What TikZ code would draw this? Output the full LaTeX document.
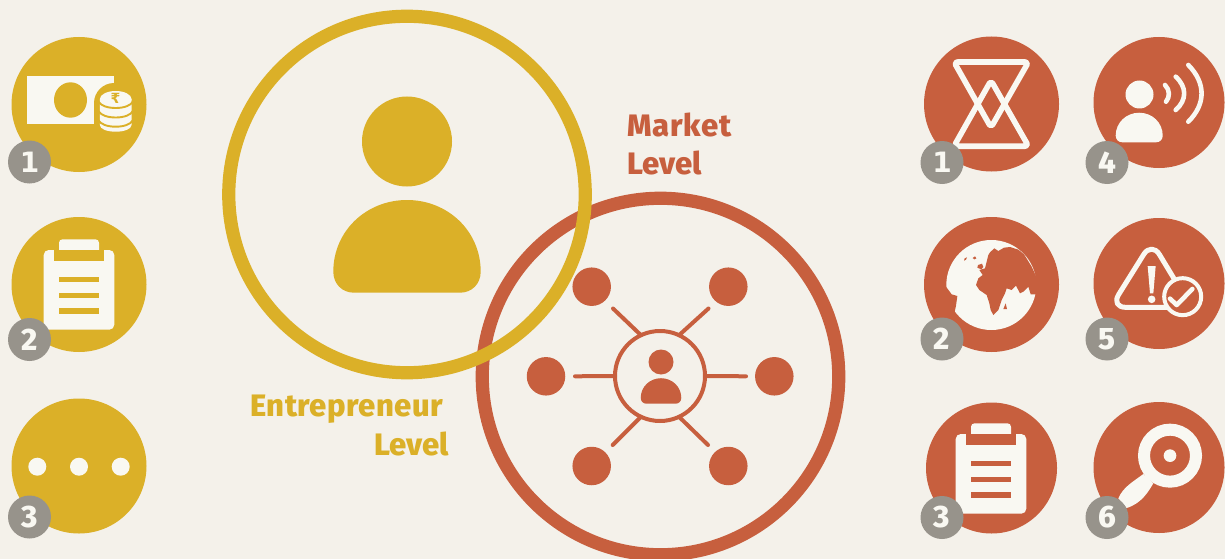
\documentclass[tikz,border=0pt]{standalone}
\usepackage{fontspec}
\setmainfont{Fira Sans}[BoldFont={Fira Sans ExtraBold}]
\newfontfamily\rupeefont{DejaVu Sans Bold}
\definecolor{bgc}{HTML}{F4F1EA}
\definecolor{ylw}{HTML}{DBB028}
\definecolor{rdc}{HTML}{C75F3E}
\definecolor{gryc}{HTML}{97938B}
\definecolor{icw}{HTML}{F9F8F2}
\tikzset{
  disc/.style={circle,fill=#1,inner sep=0,outer sep=0},
  badge/.style={circle,fill=gryc,inner sep=0,outer sep=0,minimum size=43pt,text=icw,font=\fontsize{31}{31}\selectfont\bfseries},
  ring/.style={circle,draw=#1,line width=13.2pt,inner sep=0,outer sep=0,minimum size=356.5pt},
  spoke/.style={draw=rdc,line width=4pt,line cap=round},
  lbl/.style={inner sep=0,outer sep=0,font=\fontsize{31}{37}\selectfont\bfseries,text=#1},
  iconline/.style={draw=icw,line width=#1,line cap=round,line join=round},
}
% digit one, which has a foot in the reference
\newcommand{\footone}{{\rupeefont\fontsize{28}{28}\selectfont 1}}
% person body: cx, bottom y, scale
\newcommand{\bodyshape}[4]{\fill[#4,shift={(#1,#2)},scale=#3]
  (-73.7,-21) .. controls (-73.7,-61.7) and (-40.7,-92.7) .. (0,-92.7)
  .. controls (40.7,-92.7) and (73.7,-61.7) .. (73.7,-21)
  .. controls (73.7,-9) and (65,0) .. (53,0) -- (-53,0)
  .. controls (-65,0) and (-73.7,-9) .. (-73.7,-21) -- cycle;}
% clipboard: dx, dy, cut colour
\newcommand{\clipicon}[3]{\begin{scope}[shift={(#1,#2)}]
  \fill[icw,rounded corners=5pt] (43.7,250) rectangle (114.3,329.7);
  \fill[icw] (59,250) [rounded corners=3.5pt] -- (59,239.3) -- (99,239.3) [sharp corners] -- (99,250) -- cycle;
  \fill[#3] (54,250) rectangle (104.3,260.7);
  \fill[#3] (59,276.7) rectangle (99,282);
  \fill[#3] (59,292.7) rectangle (99,298);
  \fill[#3] (59,308.3) rectangle (99,313.7);
\end{scope}}
\newcommand{\coinarc}[1]{\draw[ylw,line width=1.9pt,shift={(115.7,#1)}]
  (-17,0) .. controls (-15,3.6) and (-8.7,6.2) .. (0,6.2) .. controls (8.7,6.2) and (15,3.6) .. (17,0);}
\begin{document}
\begin{tikzpicture}[x=1pt,y=-1pt]
\fill[bgc] (0,0) rectangle (1225,559);
\useasboundingbox (0,0) rectangle (1225,559);

% large rings
\node[ring=rdc] (market) at (660.5,376.5) {};
\node[ring=ylw] (entre) at (407,194.5) {};

% entrepreneur person
\node[disc=ylw,minimum size=90pt] (ehead) at (407,141.5) {};
\bodyshape{407}{292.7}{1}{ylw}

% market network
\node[circle,draw=rdc,line width=4pt,inner sep=0,outer sep=0,minimum size=90pt] (hub) at (660,376) {};
\node[disc=rdc,minimum size=25pt] (hhead) at (661,362) {};
\bodyshape{661}{403.7}{0.275}{rdc}
\foreach \n/\x/\y in {s1/591.7/286.7,s2/728.3/286.7,s3/546/376.3,s4/774.3/376.3,s5/591.7/466,s6/728.3/466}
  \node[disc=rdc,minimum size=38.5pt] (\n) at (\x,\y) {};
\coordinate (e1) at (613,308.5);
\coordinate (e2) at (708.5,308.5);
\coordinate (e3) at (575,376.3);
\coordinate (e4) at (746,376.3);
\coordinate (e5) at (612.7,445);
\coordinate (e6) at (708,445);
\draw[spoke] (hub.115) -- (e1);
\draw[spoke] (hub.65) -- (e2);
\draw[spoke] (hub.180) -- (e3);
\draw[spoke] (hub.0) -- (e4);
\draw[spoke] (hub.245) -- (e5);
\draw[spoke] (hub.295) -- (e6);

% level labels
\node[lbl=rdc,anchor=base west] (lm1) at (627,136) {\addfontfeature{LetterSpace=2.8}Market};
\node[lbl=rdc,anchor=base west] (lm2) at (627,174.7) {Level};
\node[lbl=ylw,anchor=base east] (le1) at (443,416.7) {\addfontfeature{LetterSpace=1.5}Entrepreneur};
\node[lbl=ylw,anchor=base east] (le2) at (449,455) {Level};

% ---------- left column ----------
\node[disc=ylw,minimum size=135pt] (L1) at (79,104.5) {};
\fill[icw] (27,76) rectangle (114,124.3);
\fill[ylw] (70.5,100) ellipse [x radius=16.5pt,y radius=17.7pt];
\fill[ylw] (94,125) -- (94,103) .. controls (94,92) and (103,83) .. (114,83) -- (136,83) -- (136,125) -- cycle;
\fill[icw] (99.9,99) -- (99.9,125) .. controls (99.9,129) and (107,131.7) .. (115.7,131.7)
  .. controls (124.4,131.7) and (131.5,129) .. (131.5,125) -- (131.5,99) -- cycle;
\fill[icw] (115.7,99) ellipse [x radius=15.8pt,y radius=8pt];
\coinarc{101.8}
\coinarc{111.3}
\coinarc{120.5}
\node[inner sep=0,text=ylw,font=\rupeefont\fontsize{14}{14}\selectfont] (rup) at (115.5,98) {₹};
\node[badge] (bL1) at (29.5,162) {\footone};

\node[disc=ylw,minimum size=135pt] (L2) at (79,284.5) {};
\clipicon{0}{0}{ylw}
\node[badge] (bL2) at (29.5,339.5) {2};

\node[disc=ylw,minimum size=135pt] (L3) at (79,466) {};
\foreach \x in {37.3,79,120.7} \fill[icw] (\x,466.7) circle [radius=9pt];
\node[badge] (bL3) at (29.5,517) {3};

% ---------- right column 1 ----------
\node[disc=rdc,minimum size=135pt] (R1) at (991.5,104) {};
\draw[iconline=5.6pt,rounded corners=3.5pt] (954,62) -- (1028.5,62) -- (991,127.5) -- cycle;
\draw[iconline=5.6pt,rounded corners=3.5pt] (954,146.2) -- (1028.5,146.2) -- (991,80.5) -- cycle;
\node[badge] (bR1) at (942,162.5) {\footone};

\node[disc=rdc,minimum size=135pt] (R2) at (991.5,284.5) {};
\fill[icw] (991.3,285) circle [radius=45pt];
\begin{scope}[shift={(940,235)},scale=1/3]
\fill[rdc] (145,60) -- (150,52) -- (163,40) -- (175,48) -- (192,38) -- (210,36) -- (235,44) -- (252,58) -- (275,95) -- (300,150) -- (292,178)
  -- (272,178) -- (265,155) -- (250,170) -- (240,175) -- (228,152) -- (215,165) -- (200,160) -- (195,175) -- (185,195) -- (175,225) -- (160,240)
  -- (152,225) -- (148,205) -- (140,180) -- (118,165) -- (108,150) -- (115,130) -- (128,120) -- (118,105) -- (135,100) -- cycle;
\fill[rdc] (8,150) -- (18,155) -- (35,178) -- (52,183) -- (48,212) -- (42,240) -- (8,235) -- cycle;
\fill[rdc] (72,77) -- (74,70) -- (81,67) -- (78,74) -- cycle;
\fill[rdc] (98,69) -- (105,64) -- (109,70) -- (103,73) -- cycle;
\fill[rdc] (114,90) -- (126,86) -- (130,96) -- (124,103) -- (112,98) -- cycle;
\fill[rdc] (190,222) -- (197,205) -- (201,222) -- cycle;
\end{scope}
\node[badge] (bR2) at (942,339) {2};

\node[disc=rdc,minimum size=131pt] (R3) at (991.5,468) {};
\clipicon{912}{184}{rdc}
\node[badge] (bR3) at (942,517.5) {3};

% ---------- right column 2 ----------
\node[disc=rdc,minimum size=131pt] (R4) at (1159,102.5) {};
\node[disc=icw,minimum size=28pt] (sphead) at (1139.5,94.5) {};
\bodyshape{1139.2}{142.3}{0.319}{icw}
\draw[iconline=4.6pt] (1165,85) .. controls (1170,90) and (1170,97) .. (1166,101.7);
\draw[iconline=4.6pt] (1175.7,76.7) .. controls (1187,87) and (1187,100) .. (1175.7,110);
\draw[iconline=4.6pt] (1188.3,65) .. controls (1206,83) and (1206,104) .. (1188.3,121.7);
\node[badge] (bR4) at (1107,162.5) {4};

\node[disc=rdc,minimum size=131pt] (R5) at (1159,283.5) {};
\begin{scope}[shift={(1110,240)},scale=1/3]
\draw[iconline=5pt,rounded corners=15pt] (125,5) -- (244,202) -- (2,202) -- cycle;
\fill[icw] (113,78) -- (137,78) -- (130,160) -- (120,160) -- cycle;
\fill[icw] (125,178) circle [radius=11.4pt];
\node[circle,draw=icw,fill=rdc,line width=4pt,inner sep=0,outer sep=0,minimum size=37pt] (chk) at (218,170) {};
\draw[iconline=4.6pt] (180,176) -- (200,195) -- (247,147);
\end{scope}
\node[badge] (bR5) at (1107,339) {5};

\node[disc=rdc,minimum size=131pt] (R6) at (1159,467.5) {};
\begin{scope}[shift={(910,390)},scale=1/3]
\fill[icw] (700,252) -- (730,280) .. controls (715,305) and (695,340) .. (650,354) -- (625,325) .. controls (640,290) and (670,275) .. (700,252) -- cycle;
\node[circle,draw=icw,line width=12pt,inner sep=0,outer sep=0,minimum size=52pt] (lens) at (780,197) {};
\fill[icw] (780,197) circle [radius=19pt];
\end{scope}
\node[badge] (bR6) at (1107,517.5) {6};
\end{tikzpicture}
\end{document}
